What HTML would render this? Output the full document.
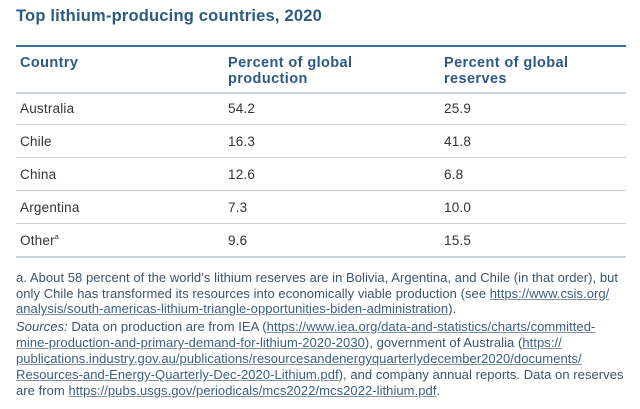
<!DOCTYPE html>
<html><head><meta charset="utf-8"><style>
body{margin:0;width:640px;height:409px;background:#fff;overflow:hidden;font-family:"Liberation Sans",sans-serif;}
#wrap{position:relative;width:640px;height:409px;}
.t{position:absolute;white-space:nowrap;}
.title{left:16px;top:7px;font-size:16.5px;font-weight:bold;color:#2c5a84;letter-spacing:0.2px;}
.hd{font-size:14.5px;font-weight:bold;color:#2c5a84;line-height:16px;letter-spacing:0.4px;}
.cell{font-size:13.5px;color:#333;line-height:16px;letter-spacing:0.2px;}
.rule{position:absolute;left:16px;width:610px;height:1px;background:#c9d0d8;}
.fn{position:absolute;left:16px;font-size:13px;color:#3e5468;white-space:nowrap;letter-spacing:0.05px;}
.fn u{color:#3e5f80;text-decoration-color:#7d93aa;}
</style></head><body>
<div id="wrap">
<div class="t title">Top lithium-producing countries, 2020</div>
<div class="rule" style="top:45px;height:2px;background:#3d6b93"></div>
<div class="t hd" style="left:20px;top:55px">Country</div>
<div class="t hd" style="left:228px;top:55px">Percent of global<br>production</div>
<div class="t hd" style="left:444px;top:55px">Percent of global<br>reserves</div>
<div class="rule" style="top:92px;height:2px"></div>
<div id="rows"></div>
<div class="fn" style="top:270px;line-height:15.5px">a. About 58 percent of the world’s lithium reserves are in Bolivia, Argentina, and Chile (in that order), but<br>only Chile has transformed its resources into economically viable production (see <u>https://www.csis.org/</u><br><u>analysis/south-americas-lithium-triangle-opportunities-biden-administration</u>).</div>
<div class="fn" style="top:319px;line-height:16px"><i>Sources:</i> Data on production are from IEA (<u>https://www.iea.org/data-and-statistics/charts/committed-</u><br><u>mine-production-and-primary-demand-for-lithium-2020-2030</u>), government of Australia (<u>https://</u><br><u>publications.industry.gov.au/publications/resourcesandenergyquarterlydecember2020/documents/</u><br><u>Resources-and-Energy-Quarterly-Dec-2020-Lithium.pdf</u>), and company annual reports. Data on reserves<br>are from <u>https://pubs.usgs.gov/periodicals/mcs2022/mcs2022-lithium.pdf</u>.</div>
</div>
<script>
const countries=["Australia","Chile","China","Argentina","Other"];
const production=["54.2","16.3","12.6","7.3","9.6"];
const reserves=["25.9","41.8","6.8","10.0","15.5"];
const rows=document.getElementById('rows');
for(let i=0;i<countries.length;i++){
  const y=94+i*33;
  const r=document.createElement('div');
  
  
  const cols=[[20,countries[i]+(countries[i]==="Other"?'<span style="font-size:7px;vertical-align:top;line-height:10px">a</span>':''),'country'],[228,production[i],'production'],[444,reserves[i],'reserves']];
  cols.forEach(c=>{
    const d=document.createElement('div');
    d.className='t cell';d.style.left=c[0]+'px';d.style.top=(y+7)+'px';d.innerHTML=c[1];
    
    
    r.appendChild(d);
  });
  const ru=document.createElement('div');
  ru.className='rule';ru.style.top=(y+30)+'px';if(i===countries.length-1)ru.style.height='2px';
  
  
  r.appendChild(ru);
  rows.appendChild(r);
}
</script>
</body></html>
